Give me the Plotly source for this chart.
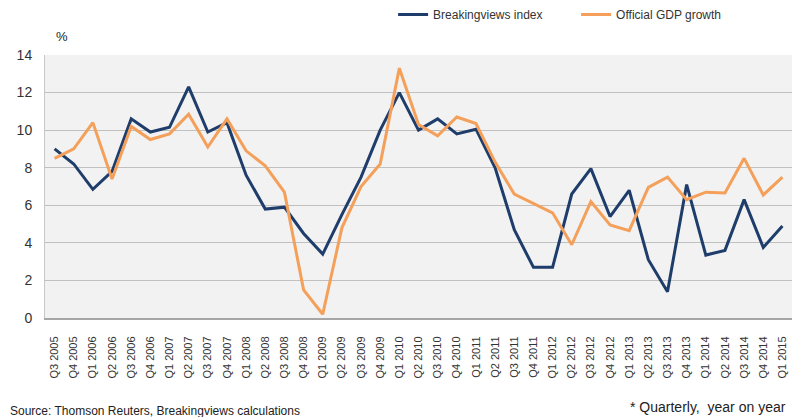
import plotly.graph_objects as go

quarters = ["Q3 2005", "Q4 2005",
            "Q1 2006", "Q2 2006", "Q3 2006", "Q4 2006",
            "Q1 2007", "Q2 2007", "Q3 2007", "Q4 2007",
            "Q1 2008", "Q2 2008", "Q3 2008", "Q4 2008",
            "Q1 2009", "Q2 2009", "Q3 2009", "Q4 2009",
            "Q1 2010", "Q2 2010", "Q3 2010", "Q4 2010",
            "Q1 2011", "Q2 2011", "Q3 2011", "Q4 2011",
            "Q1 2012", "Q2 2012", "Q3 2012", "Q4 2012",
            "Q1 2013", "Q2 2013", "Q3 2013", "Q4 2013",
            "Q1 2014", "Q2 2014", "Q3 2014", "Q4 2014",
            "Q1 2015"]

breakingviews_index = [9.0, 8.2, 6.85, 7.8, 10.6, 9.9, 10.15, 12.3, 9.9, 10.4,
                       7.6, 5.8, 5.9, 4.5, 3.4, 5.5, 7.5, 10.0, 12.0, 10.0,
                       10.6, 9.8, 10.05, 8.0, 4.7, 2.7, 2.7, 6.6, 7.95, 5.4,
                       6.8, 3.1, 1.4, 7.1, 3.35, 3.6, 6.3, 3.75, 4.9]

official_gdp_growth = [8.5, 9.0, 10.4, 7.4, 10.2, 9.5, 9.8, 10.85, 9.1, 10.6,
                       8.9, 8.1, 6.7, 1.5, 0.2, 4.8, 7.0, 8.2, 13.3, 10.3,
                       9.7, 10.7, 10.35, 8.3, 6.6, 6.1, 5.6, 3.9, 6.2, 4.95,
                       4.65, 6.95, 7.5, 6.3, 6.7, 6.65, 8.5, 6.55, 7.5]

y_ticks = [0, 2, 4, 6, 8, 10, 12, 14]

BLUE = "#1F3D6B"
ORANGE = "#F4A05A"
FONT = "Liberation Sans, Arial, sans-serif"

fig = go.Figure()
fig.add_trace(go.Scatter(x=quarters, y=breakingviews_index, mode="lines",
                         name="Breakingviews index",
                         line=dict(color=BLUE, width=3)))
fig.add_trace(go.Scatter(x=quarters, y=official_gdp_growth, mode="lines",
                         name="Official GDP growth",
                         line=dict(color=ORANGE, width=3)))

fig.update_layout(
    width=798, height=417,
    margin=dict(l=45, r=6, t=55, b=99, autoexpand=False),
    paper_bgcolor="white",
    plot_bgcolor="#F2F2F2",
    font=dict(family=FONT, color="#222222"),
    showlegend=True,
    legend=dict(orientation="h", x=0.466, y=1.0, xanchor="left", yanchor="top",
                yref="container", font=dict(size=12, color="#333333"),
                bgcolor="rgba(0,0,0,0)", itemwidth=30, entrywidth=138,
                entrywidthmode="pixels"),
    xaxis=dict(type="category", tickangle=-90, tickfont=dict(size=11, color="#333333"),
               showgrid=False, showline=True, linecolor="#A6A6A6", linewidth=2,
               ticks="", ticklabelstandoff=12, automargin=False,
               range=[-0.5, len(quarters) - 0.5]),
    yaxis=dict(range=[0, 14], tickvals=y_ticks, tickfont=dict(size=14, color="#333333"),
               showgrid=True, gridcolor="#C0C0C0", gridwidth=1,
               showline=True, linecolor="#C8C8C8", linewidth=1,
               zeroline=False, ticks="", ticklabelstandoff=9, automargin=False),
    annotations=[
        dict(text="%", xref="paper", yref="paper", x=0.012, y=1.035,
             xanchor="left", yanchor="bottom", showarrow=False,
             font=dict(size=13, color="#222222")),
        dict(text="* Quarterly,  year on year", xref="paper", yref="paper",
             x=0.995, y=-0.3, xanchor="right", yanchor="top", showarrow=False,
             font=dict(size=14, color="#222222")),
        dict(text="Source: Thomson Reuters, Breakingviews calculations", xref="paper",
             yref="paper", x=-0.05, y=-0.32, xanchor="left", yanchor="top",
             showarrow=False, font=dict(size=12, color="#222222")),
    ],
)

fig.write_html("out.html", post_script="document.body.style.margin='0';",
               config={"displayModeBar": False})
